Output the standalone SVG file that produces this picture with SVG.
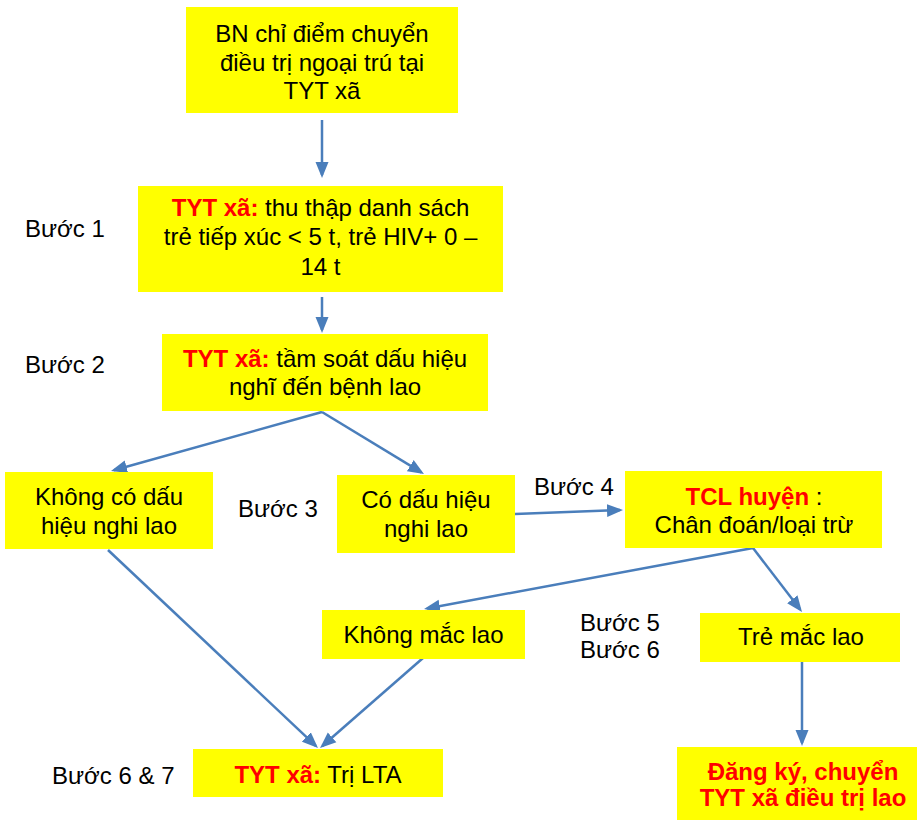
<svg xmlns="http://www.w3.org/2000/svg" width="917" height="820" viewBox="0 0 917 820">
<style>
.box{fill:#FFFF00;}
.t{font-family:"Liberation Sans",Arial,sans-serif;font-size:24px;fill:#000;text-anchor:middle;}
.l{font-family:"Liberation Sans",Arial,sans-serif;font-size:24px;fill:#000;}
.r{fill:#FF0000;font-weight:bold;}
.c{stroke:#4A7EBB;stroke-width:2.5;fill:none;marker-end:url(#ah);}
</style>
<defs>
<marker id="ah" markerUnits="userSpaceOnUse" markerWidth="16" markerHeight="14" refX="13" refY="7" orient="auto">
<path d="M0,0.5 L16,7 L0,13.5 z" fill="#4A7EBB"/>
</marker>
</defs>
<rect width="917" height="820" fill="#fff"/>
<g id="connectors">
<line class="c" x1="322" y1="120" x2="322" y2="175"/>
<line class="c" x1="322" y1="297" x2="322" y2="330"/>
<line class="c" x1="322" y1="412" x2="113.9" y2="470.2"/>
<line class="c" x1="322" y1="412" x2="421.4" y2="472.4"/>
<line class="c" x1="515" y1="514" x2="620" y2="510.1"/>
<line class="c" x1="753" y1="548" x2="427" y2="608.5"/>
<line class="c" x1="753" y1="548" x2="800.2" y2="609.6"/>
<line class="c" x1="802" y1="662" x2="802" y2="743"/>
<line class="c" x1="108" y1="550" x2="315.8" y2="745.9"/>
<line class="c" x1="423" y1="658" x2="322.3" y2="746"/>
</g>
<g id="n1">
<rect class="box" x="186" y="7" width="272" height="106"/>
<text class="t" x="322" y="42">BN chỉ điểm chuyển</text>
<text class="t" x="322" y="71">điều trị ngoại trú tại</text>
<text class="t" x="322" y="99">TYT xã</text>
</g>
<g id="n2">
<rect class="box" x="138" y="186" width="365" height="106"/>
<text class="t" x="320.5" y="216"><tspan class="r">TYT xã:</tspan> thu thập danh sách</text>
<text class="t" x="320.5" y="245">trẻ tiếp xúc &lt; 5 t, trẻ HIV+ 0 –</text>
<text class="t" x="320.5" y="275">14 t</text>
</g>
<g id="n3">
<rect class="box" x="162" y="334" width="326" height="77"/>
<text class="t" x="325" y="367"><tspan class="r">TYT xã:</tspan> tầm soát dấu hiệu</text>
<text class="t" x="325" y="395">nghĩ đến bệnh lao</text>
</g>
<g id="n4">
<rect class="box" x="5" y="472" width="208" height="77"/>
<text class="t" x="109" y="505">Không có dấu</text>
<text class="t" x="109" y="534">hiệu nghi lao</text>
</g>
<g id="n5">
<rect class="box" x="337" y="475" width="178" height="78"/>
<text class="t" x="426" y="508">Có dấu hiệu</text>
<text class="t" x="426" y="537">nghi lao</text>
</g>
<g id="n6">
<rect class="box" x="625" y="471" width="257" height="77"/>
<text class="t" x="754" y="505"><tspan class="r">TCL huyện</tspan> :</text>
<text class="t" x="754" y="533">Chân đoán/loại trừ</text>
</g>
<g id="n7">
<rect class="box" x="322" y="610" width="203" height="49"/>
<text class="t" x="423.5" y="643">Không mắc lao</text>
</g>
<g id="n8">
<rect class="box" x="700" y="613" width="200" height="49"/>
<text class="t" x="801" y="645">Trẻ mắc lao</text>
</g>
<g id="n9">
<rect class="box" x="193" y="749" width="250" height="48"/>
<text class="t" x="318" y="783"><tspan class="r">TYT xã:</tspan> Trị LTA</text>
</g>
<g id="n10">
<rect class="box" x="677" y="747" width="240" height="73"/>
<text class="t r" x="803" y="780">Đăng ký, chuyển</text>
<text class="t r" x="803" y="806">TYT xã điều trị lao</text>
</g>
<g id="labels">
<text class="l" x="25" y="237">Bước 1</text>
<text class="l" x="25" y="373">Bước 2</text>
<text class="l" x="238" y="517">Bước 3</text>
<text class="l" x="534" y="495">Bước 4</text>
<text class="l" x="580" y="631">Bước 5</text>
<text class="l" x="580" y="658">Bước 6</text>
<text class="l" x="52" y="784">Bước 6 &amp; 7</text>
</g>
</svg>
